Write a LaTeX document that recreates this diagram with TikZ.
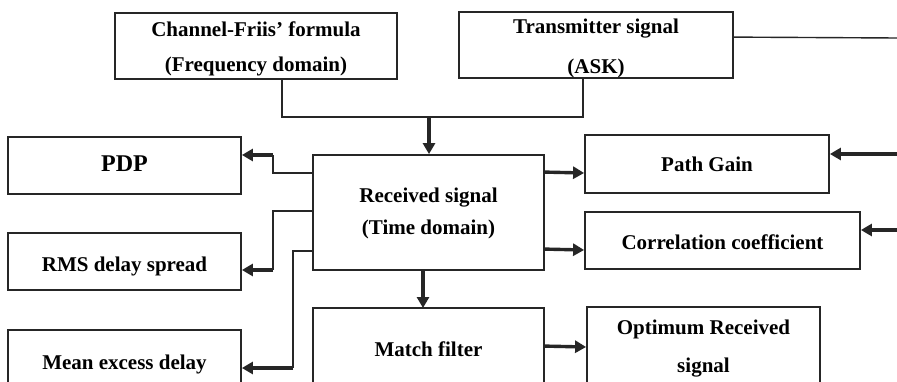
\documentclass[tikz,border=0pt]{standalone}
\usepackage{fontspec}
\setmainfont{Liberation Serif}
\usetikzlibrary{arrows.meta,calc}
\tikzset{
  box/.style={draw=black!85, line width=1.8pt, inner sep=0pt},
  txt/.style={inner sep=0pt, font=\bfseries\fontsize{21}{25}\selectfont, text height=14pt, text depth=0pt},
  txttwo/.style={inner sep=0pt, align=center, font=\bfseries\fontsize{21}{#1}\selectfont},
  conn/.style={draw=black!85, line width=1.4pt},
  thickarr/.style={draw=black!85, line width=3.4pt, -{Triangle[length=11pt,width=12pt]}},
}
\begin{document}
\begin{tikzpicture}[x=1pt,y=-1pt]
\clip[use as bounding box] (0,0) rectangle (897,382);
\fill[white] (0,0) rectangle (897,382);
% boxes
\node[box, minimum width=282pt, minimum height=66pt] (chan) at (256,46) {};
\node[box, minimum width=274pt, minimum height=66pt] (trans) at (596,45) {};
\node[box, minimum width=233pt, minimum height=57pt] (pdp) at (124.5,165.5) {};
\node[box, minimum width=231pt, minimum height=115pt] (recv) at (428.5,212.5) {};
\node[box, minimum width=233pt, minimum height=57pt] (rms) at (124.5,261.5) {};
\node[box, minimum width=233pt, minimum height=64pt] (mean) at (124.5,362) {};
\node[box, minimum width=231pt, minimum height=84pt] (match) at (428.5,350) {};
\node[box, minimum width=233pt, minimum height=82pt] (opt) at (703.5,348) {};
\node[box, minimum width=244pt, minimum height=58pt] (pg) at (707,164) {};
\node[box, minimum width=275pt, minimum height=57pt] (corr) at (722.5,240.5) {};
% texts
\node[txttwo=35] (chanT) at (256,49) {Channel-Friis' formula\\(Frequency domain)};
\node[txttwo=40] (transT) at (596,48.5) {Transmitter signal\\(ASK)};
\node[txt, font=\bfseries\fontsize{24}{28}\selectfont, text height=16pt] (pdpT) at (124.5,164) {PDP};
\node[txttwo=32] (recvT) at (428.5,213) {Received signal\\(Time domain)};
\node[txt] (rmsT) at (124.5,265) {RMS delay spread};
\node[txt] (meanT) at (124.5,362) {Mean excess delay};
\node[txt] (matchT) at (428.5,349.5) {Match filter};
\node[txttwo=38] (optT) at (703.5,349) {Optimum Received\\signal};
\node[txt] (pgT) at (707,165) {Path Gain};
\node[txt] (corrT) at (722.5,243) {Correlation coefficient};
% free ends at the right edge
\coordinate (edgeT) at (897,38);
\coordinate (edgeP) at (897,154);
\coordinate (edgeC) at (897,230);
\coordinate (join) at (429,117);
% channel and transmitter into received
\draw[conn] ($(chan.south west)+(168,0)$) |- (join);
\draw[conn] ($(trans.south west)+(125,0)$) |- (join);
\draw[thickarr] (join) -- (join |- recv.north);
\draw[conn] ($(trans.north east)+(0,26)$) -- (edgeT);
% left outputs
\draw[conn] ($(recv.north west)+(0,19)$) -| (273,155);
\draw[thickarr] (273,155) -- (pdp.east |- 0,155);
\draw[conn] ($(recv.north west)+(0,57)$) -| (273,270);
\draw[thickarr] (273,270) -- (rms.east |- 0,270);
\draw[conn] ($(recv.north west)+(0,97)$) -| (293,368);
\draw[thickarr] (293,368) -- (mean.east |- 0,368);
% right outputs
\draw[thickarr] ($(recv.north east)+(0,18)$) -- (pg.west |- 0,173);
\draw[thickarr] ($(recv.north east)+(0,95)$) -- (corr.west |- 0,250);
\draw[thickarr] (edgeP) -- (pg.east |- edgeP);
\draw[thickarr] (edgeC) -- (corr.east |- edgeC);
% downward
\draw[thickarr] (423,270) -- (423,308);
\draw[thickarr] ($(match.north east)+(0,39)$) -- (opt.west |- 0,347);
\end{tikzpicture}
\end{document}
